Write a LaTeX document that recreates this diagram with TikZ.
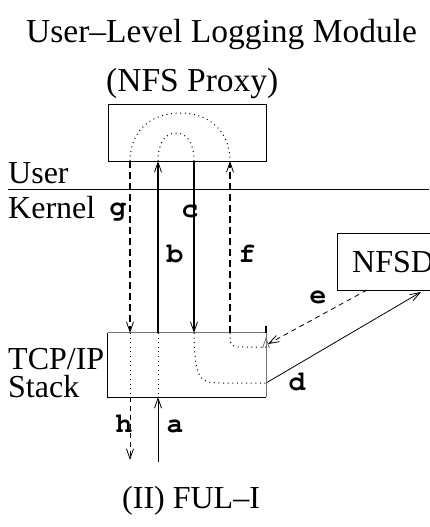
\documentclass[tikz,border=0pt]{standalone}
\usepackage{fontspec}
\setmainfont{Liberation Serif}
\newfontfamily\flowfont{texgyrecursor-bold.otf}
\usetikzlibrary{arrows.meta}

\begin{document}
\begin{tikzpicture}[x=1pt,y=-1pt,
  txt/.style={font=\fontsize{32}{34}\selectfont, inner sep=0pt, anchor=base west},
  head/.style={font=\fontsize{33.5}{36}\selectfont, inner sep=0pt, anchor=base west},
  lbl/.style={font=\flowfont\fontsize{28}{30}\selectfont, inner sep=0pt, anchor=base},
  box/.style={draw, line width=0.9pt, inner sep=0pt},
  tipend/.style={-{Straight Barb[length=10pt,width=7pt,line width=0.8pt]}},
  heavy/.style={line width=2.4pt},
  heavydash/.style={line width=2.4pt, dash pattern=on 7pt off 4pt},
  lightdash/.style={line width=0.8pt, dash pattern=on 5pt off 4pt},
  light/.style={line width=0.8pt},
  dots/.style={line width=1pt, dash pattern=on 1pt off 3.6pt}]
\useasboundingbox (0,0) rectangle (429,527);

% headings and side labels
\node[head] (title1) at (26,42) {User–Level Logging Module};
\node[head] (title2) at (106,91) {(NFS Proxy)};
\node[txt] (user) at (8,183) {User};
\node[txt] (kernel) at (8,218) {Kernel};
\node[txt] (tcp) at (8,369) {TCP/IP};
\node[txt] (stack) at (8,397) {Stack};
\node[txt] (caption) at (122,508) {(II) FUL–I};

% user/kernel boundary
\coordinate (sepL) at (8,189);
\coordinate (sepR) at (429,189);
\draw[line width=0.9pt] (sepL) -- (sepR);

% boxes
\node[box, minimum width=158pt, minimum height=57pt] (proxy) at (187,132.5) {};
\node[draw=none, minimum width=158pt, minimum height=64pt, inner sep=0pt] (stackbox) at (187,365) {};
\draw[line width=0.9pt] (stackbox.north west) -- (stackbox.south west) -- (stackbox.south east);
\draw[line width=0.9pt, black!55] (stackbox.north west) -- (stackbox.north east) -- (stackbox.south east);
\node[box, minimum width=113pt, minimum height=57pt] (nfsd) at (393.5,261.5) {};
\node[txt] (nfsdtext) at (352,272) {NFSD};

% attachment points on the boxes
\coordinate (gU) at (130,161);  \coordinate (gD) at (130,333);
\coordinate (bU) at (158,161);  \coordinate (bD) at (158,333);
\coordinate (cU) at (194,161);  \coordinate (cD) at (194,333);
\coordinate (fU) at (230,161);  \coordinate (fD) at (230,333);
\coordinate (gB) at (130,397);  \coordinate (hEnd) at (130,460);
\coordinate (aB) at (158,397);  \coordinate (aStart) at (158,462);
\coordinate (dOut) at (266,383); \coordinate (dIn) at (421,292);
\coordinate (eOut) at (367,290); \coordinate (eIn) at (268,344);
\coordinate (rTip) at (266,337); \coordinate (tickTop) at (266,326);
\coordinate (tickBot) at (266,333);

% flows between proxy and stack
\draw[heavydash, tipend] (gU) -- (gD);
\draw[heavy, tipend] (bD) -- (bU);
\draw[heavy, tipend] (cU) -- (cD);
\draw[heavydash, tipend] (fD) -- (fU);

% wire side
\draw[lightdash, tipend] (gB) -- (hEnd);
\draw[light, tipend] (aStart) -- (aB);

% NFSD links
\draw[light, tipend] (dOut) -- (dIn);
\draw[lightdash, tipend] (eOut) -- (eIn);
\draw[light, black!55, tipend] (dOut) -- (rTip);
\draw[line width=2pt] (tickTop) -- (tickBot);

% packet paths inside the boxes
\draw[dots] (gU) .. controls (130,132) and (150,113) .. (180,113)
            .. controls (210,113) and (230,132) .. (fU);
\draw[dots] (bU) .. controls (158,143) and (165,133) .. (176,133)
            .. controls (187,133) and (194,143) .. (cU);
\draw[dots] (gD) -- (gB);
\draw[dots] (bD) -- (aB);
\draw[dots] (cD) .. controls (195,385) and (200,383) .. (230,383) -- (dOut);
\draw[dots] (fD) .. controls (230,347) .. (248,347) -- (266,347);

% flow labels
\node[lbl] (lg) at (118,215) {g};
\node[lbl] (lc) at (190,217) {c};
\node[lbl] (lb) at (175,262) {b};
\node[lbl] (lf) at (247,262) {f};
\node[lbl] (le) at (318,303) {e};
\node[lbl] (ld) at (297,390) {d};
\node[lbl] (lh) at (124,432) {h};
\node[lbl] (la) at (175,432) {a};
\end{tikzpicture}
\end{document}
